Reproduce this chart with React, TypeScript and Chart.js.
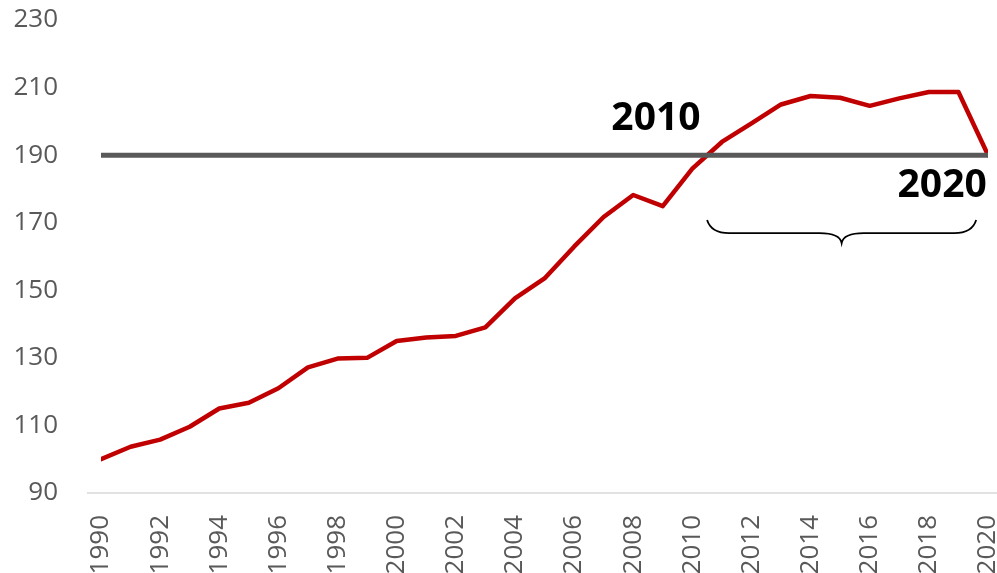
import React, { useEffect, useRef } from "react";
import { Chart, registerables } from "chart.js";

Chart.register(...registerables);

const years = [
  1990, 1991, 1992, 1993, 1994, 1995, 1996, 1997, 1998, 1999,
  2000, 2001, 2002, 2003, 2004, 2005, 2006, 2007, 2008, 2009,
  2010, 2011, 2012, 2013, 2014, 2015, 2016, 2017, 2018, 2019, 2020,
];
const values = [
  100, 103.7, 105.8, 109.6, 115, 116.7, 121, 127.2, 129.8, 130,
  135, 136, 136.5, 139, 147.6, 153.5, 162.9, 171.7, 178.2, 174.9,
  186, 193.9, 199.4, 205, 207.5, 207, 204.6, 206.8, 208.7, 208.7, 190,
];
const thresholdYears = [1990, 2020];
const thresholdValues = [190, 190];
const yTicks = [90, 110, 130, 150, 170, 190, 210, 230];
const xTicks = [1990, 1992, 1994, 1996, 1998, 2000, 2002, 2004, 2006, 2008, 2010, 2012, 2014, 2016, 2018, 2020];

const labelTexts = ["2010", "2020"];
const labelX = [2008.77, 2018.45];
const labelBaseY = [197.4, 177.6];

const braceFrom = 2010.5;
const braceTo = 2019.6;
const braceTop = 170.8;
const braceMid = 166.9;
const braceTip = 164;

const FONT = "'Open Sans', 'Liberation Sans', sans-serif";

const annotationPlugin = {
  id: "annotations",
  beforeDatasetsDraw(chart: any) {
    const { ctx, chartArea } = chart;
    ctx.save();
    ctx.strokeStyle = "#d9d9d9";
    ctx.lineWidth = 1.5;
    ctx.beginPath();
    ctx.moveTo(chartArea.left - 14, chartArea.bottom);
    ctx.lineTo(chart.width, chartArea.bottom);
    ctx.stroke();
    ctx.restore();
  },
  afterDatasetsDraw(chart: any) {
    const { ctx, scales } = chart;
    const x = scales.x;
    const y = scales.y;
    ctx.save();
    ctx.fillStyle = "#000000";
    ctx.font = `bold 39px ${FONT}`;
    ctx.textAlign = "center";
    ctx.textBaseline = "alphabetic";
    labelTexts.forEach((t, i) => {
      ctx.fillText(t, x.getPixelForValue(labelX[i]), y.getPixelForValue(labelBaseY[i]));
    });

    const x0 = x.getPixelForValue(braceFrom);
    const x1 = x.getPixelForValue(braceTo);
    const xm = (x0 + x1) / 2;
    const yt = y.getPixelForValue(braceTop);
    const ym = y.getPixelForValue(braceMid);
    const yp = y.getPixelForValue(braceTip);
    const q = 22;
    ctx.strokeStyle = "#000000";
    ctx.lineWidth = 1.8;
    ctx.beginPath();
    ctx.moveTo(x0, yt);
    ctx.quadraticCurveTo(x0 + 4, ym, x0 + q, ym);
    ctx.lineTo(xm - q, ym);
    ctx.quadraticCurveTo(xm - 2, ym, xm, yp);
    ctx.quadraticCurveTo(xm + 2, ym, xm + q, ym);
    ctx.lineTo(x1 - q, ym);
    ctx.quadraticCurveTo(x1 - 4, ym, x1, yt);
    ctx.stroke();
    ctx.restore();
  },
};

export default function App() {
  const ref = useRef<HTMLCanvasElement | null>(null);

  useEffect(() => {
    if (!ref.current) return;
    const chart = new Chart(ref.current, {
      type: "line",
      data: {
        datasets: [
          {
            label: "Threshold",
            data: thresholdYears.map((yr, i) => ({ x: yr, y: thresholdValues[i] })),
            borderColor: "#595959",
            borderWidth: 5,
            borderCapStyle: "round",
            pointRadius: 0,
            order: 0,
          },
          {
            label: "Index",
            data: years.map((yr, i) => ({ x: yr, y: values[i] })),
            borderColor: "#c00000",
            borderWidth: 4.5,
            borderCapStyle: "round",
            borderJoinStyle: "round",
            pointRadius: 0,
            tension: 0,
            order: 1,
          },
        ],
      },
      options: {
        animation: false,
        responsive: false,
        layout: { padding: { top: 20, right: 9, left: 0, bottom: 0 } },
        plugins: {
          legend: { display: false },
          tooltip: { enabled: false },
        },
        scales: {
          x: {
            type: "linear",
            min: 1990,
            max: 2020,
            grid: { display: false, drawTicks: false },
            border: { display: false },
            afterBuildTicks: (scale: any) => {
              scale.ticks = xTicks.map((v) => ({ value: v }));
            },
            afterFit: (scale: any) => {
              scale.height = 107;
              scale.paddingLeft = 0;
              scale.paddingRight = 0;
            },
            ticks: {
              autoSkip: false,
              minRotation: 90,
              maxRotation: 90,
              padding: 22,
              color: "#595959",
              font: { family: FONT, size: 26 },
              callback: (v: any) => String(v),
            },
          },
          y: {
            min: 90,
            max: 230,
            grid: { display: false, drawTicks: false },
            border: { display: false },
            afterBuildTicks: (scale: any) => {
              scale.ticks = yTicks.map((v) => ({ value: v }));
            },
            afterFit: (scale: any) => {
              scale.width = 101;
              scale.paddingTop = 0;
              scale.paddingBottom = 0;
            },
            ticks: {
              padding: 43,
              color: "#595959",
              font: { family: FONT, size: 26 },
              callback: (v: any) => String(v),
            },
          },
        },
      },
      plugins: [annotationPlugin],
    });
    return () => chart.destroy();
  }, []);

  return (
    <div style={{ position: "fixed", left: 0, top: 0, width: 997, height: 600, background: "#fff" }}>
      <canvas ref={ref} width={997} height={600} style={{ display: "block" }} />
    </div>
  );
}
